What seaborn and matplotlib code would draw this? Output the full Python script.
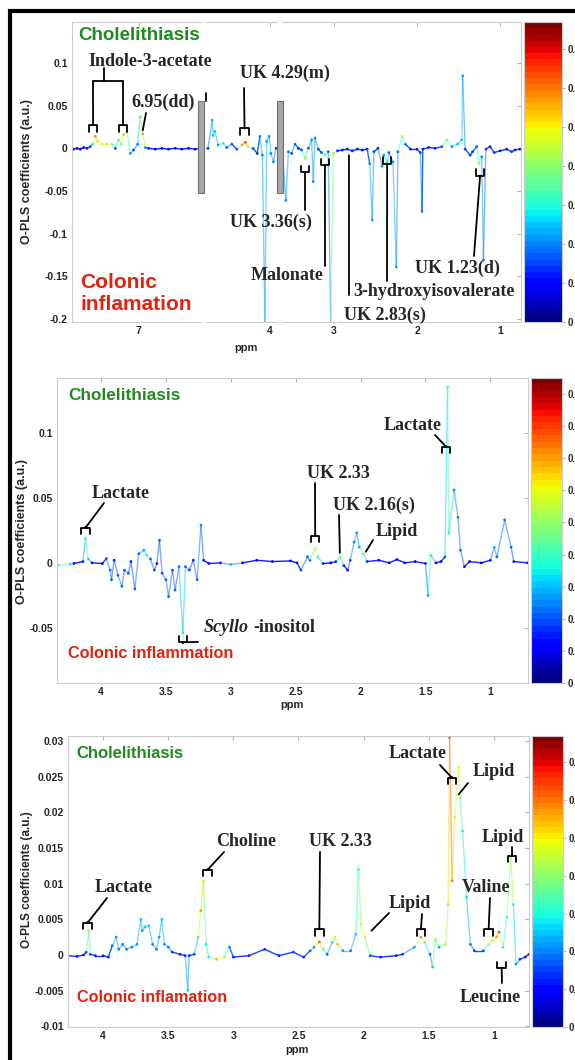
# O-PLS coefficient plots (three panels), jet colour-coded by correlation

import numpy as np
import matplotlib.pyplot as plt
import seaborn as sns
from matplotlib.collections import LineCollection
from matplotlib.colors import Normalize
from matplotlib.cm import ScalarMappable
from matplotlib.lines import Line2D
from matplotlib.patches import Rectangle
from matplotlib import transforms

W, H = 575, 1060

# ---- panel 1 data (broken ppm axis) ----
p1_ppm = [7.78, 7.74, 7.70, 7.66, 7.62, 7.58, 7.55, 7.52, 7.49, 7.44, 7.38, 7.32, 7.28, 7.24, 7.21,
          7.18, 7.14, 7.10, 7.06, 7.01, 6.98, 6.95, 6.92, 6.88, 6.80, 6.72, 6.64, 6.56, 6.48, 6.40,
          6.32, 6.26,
          4.73, 4.68, 4.67, 4.65, 4.61, 4.55, 4.51, 4.45, 4.39, 4.33, 4.29, 4.26, 4.20, 4.15, 4.12,
          4.09, 4.06, 4.04, 4.01, 3.99, 3.96, 3.93,
          3.62, 3.58, 3.55, 3.51, 3.47, 3.43, 3.39, 3.35, 3.31, 3.27, 3.25, 3.23, 3.19, 3.15, 3.11,
          3.07, 3.04, 3.01, 2.96, 2.90, 2.84, 2.78, 2.72, 2.66, 2.60, 2.57, 2.54, 2.52, 2.47, 2.42,
          2.40, 2.36, 2.34, 2.29, 2.25, 2.23, 2.18, 2.14, 2.08, 2.00, 1.96, 1.94, 1.93, 1.86, 1.78,
          1.70, 1.64, 1.58, 1.51, 1.46, 1.45, 1.42, 1.36, 1.33, 1.28, 1.25, 1.22, 1.20, 1.17, 1.12,
          1.07, 1.00, 0.92, 0.86, 0.82, 0.76]
p1_coef = [-0.001, 0.000, -0.001, 0.001, 0.000, 0.002, 0.005, 0.014, 0.008, 0.005, 0.005, 0.005, 0.000,
           0.010, 0.005, 0.016, 0.019, -0.006, -0.002, 0.005, 0.037, 0.017, 0.001, 0.000, -0.001, 0.000,
           -0.001, 0.000, -0.001, 0.000, -0.001, 0.000,
           0.000, 0.033, 0.015, 0.020, 0.004, 0.006, 0.001, 0.005, -0.001, 0.004, 0.007, 0.002, 0.000,
           -0.006, 0.014, -0.008, -0.205, 0.008, 0.014, -0.006, -0.016, 0.000,
           -0.008, -0.061, -0.004, -0.006, 0.005, 0.000, -0.002, -0.012, 0.000, 0.010, -0.039, 0.012,
           -0.001, -0.005, -0.008, -0.004, -0.205, -0.006, -0.003, -0.002, -0.001, -0.003, -0.001,
           -0.002, -0.001, -0.018, -0.084, -0.004, 0.000, -0.021, -0.008, -0.016, -0.005, -0.016,
           -0.139, -0.004, 0.014, 0.005, -0.001, -0.001, -0.005, -0.074, -0.001, 0.001, 0.000, 0.002,
           0.010, 0.002, 0.005, 0.010, 0.085, -0.001, -0.008, -0.004, 0.002, -0.018, -0.010, -0.131,
           -0.001, 0.002, -0.005, -0.003, -0.001, -0.004, -0.002, -0.001]
p1_corr = [0.12, 0.12, 0.10, 0.12, 0.12, 0.14, 0.30, 0.60, 0.50, 0.45, 0.45, 0.45, 0.12, 0.40, 0.35,
           0.55, 0.45, 0.22, 0.15, 0.20, 0.30, 0.60, 0.22, 0.12, 0.10, 0.12, 0.10, 0.12, 0.10, 0.12,
           0.10, 0.12,
           0.12, 0.25, 0.25, 0.25, 0.20, 0.35, 0.15, 0.20, 0.12, 0.55, 0.65, 0.50, 0.15, 0.12, 0.22,
           0.20, 0.24, 0.22, 0.22, 0.20, 0.22, 0.15,
           0.20, 0.22, 0.20, 0.15, 0.22, 0.12, 0.15, 0.45, 0.15, 0.22, 0.22, 0.22, 0.15, 0.15, 0.40,
           0.15, 0.24, 0.50, 0.12, 0.12, 0.12, 0.12, 0.12, 0.12, 0.12, 0.22, 0.24, 0.15, 0.12, 0.24,
           0.20, 0.35, 0.15, 0.22, 0.24, 0.15, 0.50, 0.20, 0.12, 0.12, 0.15, 0.22, 0.12, 0.12, 0.12,
           0.15, 0.45, 0.20, 0.25, 0.25, 0.24, 0.15, 0.15, 0.15, 0.15, 0.45, 0.20, 0.22, 0.15, 0.12,
           0.15, 0.12, 0.12, 0.15, 0.12, 0.12]
p1_segments = [(7.8, 6.25), (4.765, 3.918), (3.627, 0.747)]
p1_xticks = [[7], [4], [3, 2, 1]]

# ---- panel 2 data ----
p2_ppm = [4.33, 4.24, 4.21, 4.14, 4.12, 4.10, 4.07, 3.99, 3.96, 3.93, 3.92, 3.90, 3.87, 3.84, 3.82,
          3.79, 3.77, 3.74, 3.71, 3.67, 3.65, 3.62, 3.59, 3.57, 3.55, 3.53, 3.50, 3.48, 3.45, 3.43,
          3.40, 3.37, 3.35, 3.32, 3.29, 3.26, 3.23, 3.21, 3.17, 3.08, 3.00, 2.91, 2.80, 2.68, 2.54,
          2.49, 2.46, 2.41, 2.39, 2.35, 2.33, 2.29, 2.23, 2.19, 2.16, 2.13, 2.10, 2.08, 2.05, 2.03,
          2.01, 1.98, 1.95, 1.86, 1.78, 1.72, 1.66, 1.58, 1.50, 1.48, 1.46, 1.42, 1.38, 1.35, 1.33,
          1.32, 1.28, 1.25, 1.23, 1.20, 1.16, 1.07, 1.00, 0.97, 0.95, 0.89, 0.84, 0.82, 0.71]
p2_coef = [-0.002, -0.001, -0.0005, 0.001, 0.019, 0.003, 0.000, -0.0005, 0.0033, -0.0056, -0.013,
           0.002, -0.0095, -0.018, -0.0056, -0.008, 0.001, -0.020, 0.007, 0.0097, 0.006, 0.003,
           -0.0056, -0.0005, 0.0174, -0.008, -0.013, -0.026, -0.0056, -0.021, -0.003, -0.054, -0.003,
           -0.0056, 0.002, -0.013, 0.029, 0.002, -0.0005, 0.000, -0.0013, 0.000, 0.002, 0.001, 0.0015,
           0.000, -0.0056, 0.0046, 0.002, 0.011, 0.0046, -0.0005, 0.000, 0.001, 0.0046, -0.002,
           -0.0056, 0.002, 0.016, 0.023, 0.012, 0.007, 0.001, 0.002, 0.000, 0.0026, 0.000, 0.001,
           -0.0005, -0.025, 0.006, 0.000, 0.001, 0.0046, 0.135, 0.0226, 0.056, 0.035, 0.0097, -0.003,
           0.001, 0.000, 0.002, 0.012, 0.0046, 0.033, 0.012, 0.001, 0.000]
p2_corr = [0.45, 0.40, 0.12, 0.12, 0.40, 0.35, 0.12, 0.12, 0.20, 0.22, 0.22, 0.15, 0.22, 0.22, 0.20,
           0.22, 0.15, 0.22, 0.22, 0.28, 0.45, 0.20, 0.20, 0.15, 0.22, 0.20, 0.22, 0.22, 0.20, 0.22,
           0.20, 0.40, 0.20, 0.20, 0.15, 0.22, 0.26, 0.15, 0.12, 0.12, 0.35, 0.12, 0.15, 0.12, 0.15,
           0.12, 0.20, 0.22, 0.20, 0.60, 0.45, 0.15, 0.12, 0.15, 0.55, 0.15, 0.15, 0.20, 0.26, 0.26,
           0.26, 0.50, 0.15, 0.12, 0.12, 0.15, 0.12, 0.12, 0.12, 0.28, 0.45, 0.12, 0.12, 0.20, 0.45,
           0.40, 0.24, 0.24, 0.22, 0.15, 0.12, 0.12, 0.15, 0.30, 0.20, 0.24, 0.22, 0.15, 0.12]

# ---- panel 3 data ----
p3_ppm = [4.27, 4.20, 4.15, 4.13, 4.11, 4.10, 4.06, 4.00, 3.96, 3.93, 3.90, 3.88, 3.85, 3.82, 3.78,
          3.74, 3.71, 3.70, 3.68, 3.65, 3.62, 3.59, 3.57, 3.55, 3.53, 3.50, 3.47, 3.41, 3.37, 3.35,
          3.34, 3.30, 3.27, 3.25, 3.23, 3.21, 3.19, 3.13, 3.07, 3.03, 3.00, 2.88, 2.76, 2.65, 2.54,
          2.46, 2.41, 2.38, 2.34, 2.31, 2.28, 2.24, 2.22, 2.20, 2.16, 2.10, 2.06, 2.04, 2.02, 1.99,
          1.95, 1.87, 1.75, 1.70, 1.61, 1.56, 1.53, 1.49, 1.47, 1.45, 1.42, 1.37, 1.35, 1.34, 1.32,
          1.30, 1.27, 1.26, 1.24, 1.21, 1.18, 1.15, 1.08, 1.04, 1.01, 0.98, 0.96, 0.93, 0.90, 0.87,
          0.85, 0.83, 0.80, 0.76, 0.73]
p3_coef = [-0.0001, -0.0002, 0.0000, 0.0004, 0.0034, 0.0001, -0.0001, -0.0001, -0.0003, 0.0013,
           0.0025, 0.0008, 0.0015, 0.0008, 0.0011, 0.0015, 0.0050, 0.0034, 0.0039, 0.0041, 0.0015,
           0.0008, 0.0025, 0.0050, 0.0015, 0.0011, 0.0004, 0.0001, -0.0001, -0.0050, -0.0001, 0.0001,
           0.0025, 0.0062, 0.0104, 0.0015, -0.0003, -0.0006, -0.0003, 0.0011, -0.0003, -0.0001,
           0.0008, -0.0001, 0.0004, -0.0003, 0.0006, 0.0011, 0.0018, 0.0008, 0.0001, 0.0018, 0.0025,
           0.0015, 0.0006, 0.0006, 0.0029, 0.0120, 0.0043, 0.0025, -0.0001, -0.0003, -0.0001, 0.0001,
           0.0011, 0.0025, 0.0018, 0.0001, -0.0017, 0.0022, 0.0011, 0.0015, 0.0071, 0.0305, 0.0104,
           0.0193, 0.0263, 0.0221, 0.0174, 0.0081, 0.0015, 0.0006, 0.0006, 0.0015, 0.0020, 0.0025,
           0.0032, 0.0011, 0.0053, 0.0137, 0.0071, -0.0013, -0.0006, -0.0003, 0.0001]
p3_corr = [0.12, 0.12, 0.12, 0.15, 0.50, 0.15, 0.12, 0.12, 0.12, 0.20, 0.22, 0.20, 0.20, 0.20, 0.20,
           0.22, 0.26, 0.22, 0.26, 0.26, 0.20, 0.20, 0.22, 0.26, 0.22, 0.20, 0.15, 0.12, 0.12, 0.32,
           0.12, 0.15, 0.32, 0.60, 0.45, 0.28, 0.28, 0.55, 0.45, 0.22, 0.12, 0.12, 0.15, 0.12, 0.15,
           0.12, 0.20, 0.22, 0.65, 0.40, 0.15, 0.28, 0.45, 0.55, 0.20, 0.20, 0.26, 0.32, 0.45, 0.50,
           0.15, 0.12, 0.12, 0.15, 0.22, 0.60, 0.40, 0.15, 0.26, 0.45, 0.20, 0.45, 0.40, 0.65, 0.60,
           0.45, 0.50, 0.40, 0.28, 0.28, 0.20, 0.15, 0.15, 0.45, 0.45, 0.55, 0.65, 0.28, 0.32, 0.50,
           0.32, 0.22, 0.15, 0.12, 0.12]

cbar_max = [0.77, 0.95, 0.77]
green = '#1f8a1f'
red = '#e2220f'

sns.set_style('white')
plt.rcParams['font.family'] = ['Liberation Sans', 'DejaVu Sans']
plt.rcParams['font.weight'] = 'bold'
jet = plt.get_cmap('jet', 48)
serif = dict(family=['Liberation Serif', 'DejaVu Serif'], weight='bold', size=13)

fig = plt.figure(figsize=(W / 100, H / 100), dpi=100)


def box(x0, y0, x1, y1):
    return [x0 / W, 1 - y1 / H, (x1 - x0) / W, (y1 - y0) / H]


def spectrum(ax, ppm, coef, corr, vmax, lo=None, hi=None):
    ppm, coef, corr = np.asarray(ppm), np.asarray(coef), np.asarray(corr)
    if lo is not None:
        keep = (ppm >= lo) & (ppm <= hi)
        ppm, coef, corr = ppm[keep], coef[keep], corr[keep]
    pts = np.column_stack([ppm, coef])
    seg_corr = (corr[:-1] + corr[1:]) / 2
    colors = jet(Normalize(0, vmax)(seg_corr))
    # strong baseline stays solid, large excursions drawn faint
    colors[:, 3] = np.where(seg_corr < 0.17, 0.9, 0.5)
    lc = LineCollection(np.stack([pts[:-1], pts[1:]], axis=1), colors=colors, linewidths=1.0)
    ax.add_collection(lc)
    sns.scatterplot(x=ppm, y=coef, hue=corr, palette=jet, hue_norm=(0, vmax), s=4,
                    linewidth=0, legend=False, ax=ax)


def style(ax):
    for sp in ax.spines.values():
        sp.set_color('#cccccc')
        sp.set_linewidth(0.8)
    ax.tick_params(direction='in', length=3, width=0.8, color='#b5b5b5', labelsize=7.5,
                   top=True, right=True, pad=3)
    ax.set_xlabel('')
    ax.set_ylabel('')


def colorbar(pos, vmax):
    cax = fig.add_axes(box(*pos))
    cb = fig.colorbar(ScalarMappable(norm=Normalize(0, vmax), cmap=jet), cax=cax,
                      ticks=np.arange(0, vmax, 0.1))
    cb.outline.set_edgecolor('#cccccc')
    cax.tick_params(labelsize=7, length=2, color='#b5b5b5', pad=2)
    cax.yaxis.set_major_formatter('{x:.1g}')


def label(px, py, s, **kw):
    kw.setdefault('ha', 'center')
    fig.text(px / W, 1 - py / H, s, va='center', **kw)


def link(ax, x, y, px, py):
    ax.annotate('', xy=(x, y), xytext=(px, H - py), textcoords='figure pixels',
                annotation_clip=False,
                arrowprops=dict(arrowstyle='-', lw=1.3, color='k', shrinkA=0, shrinkB=0))


def cap(ax, x, y, up=False):
    ax.annotate('', xy=(x, y), xytext=(0, -1 if up else 1), textcoords='offset pixels',
                annotation_clip=False,
                arrowprops=dict(arrowstyle='-[,widthB=0.3,lengthB=0.45', lw=1.3, color='k',
                                shrinkA=0, shrinkB=0, mutation_scale=10))


def polyline(pts):
    xs = [p[0] / W for p in pts]
    ys = [1 - p[1] / H for p in pts]
    fig.add_artist(Line2D(xs, ys, color='k', lw=1.3, transform=fig.transFigure))


# ================= panel 1 =================
seg_px = [(72, 201), (205, 277), (282, 521)]
p1_axes = []
for i, ((hi, lo), (x0, x1)) in enumerate(zip(p1_segments, seg_px)):
    ax = fig.add_axes(box(x0, 22, x1, 322))
    spectrum(ax, p1_ppm, p1_coef, p1_corr, cbar_max[0], lo=lo - 0.01, hi=hi + 0.01)
    ax.set_xlim(hi, lo)
    ax.set_ylim(-0.2035, 0.148)
    style(ax)
    ax.set_xticks(p1_xticks[i])
    ax.set_xticklabels([f'{t:g}' for t in p1_xticks[i]])
    ax.set_yticks(np.arange(-0.2, 0.101, 0.05))
    if i == 0:
        ax.set_yticklabels(['-0.2', '-0.15', '-0.1', '-0.05', '0', '0.05', '0.1'])
        ax.spines['right'].set_visible(False)
        ax.tick_params(right=False)
    else:
        ax.set_yticklabels([])
        ax.spines['left'].set_visible(False)
        ax.tick_params(left=False)
        if i == 1:
            ax.spines['right'].set_visible(False)
            ax.tick_params(right=False)
    p1_axes.append(ax)
axA, axB, axC = p1_axes

# grey break bars
blend = transforms.blended_transform_factory(fig.transFigure, axA.transData)
for bx in (198, 277):
    fig.add_artist(Rectangle((bx / W, -0.052), 6 / W, 0.108, transform=blend,
                             facecolor='#a8a8a8', edgecolor='#6f6f6f', lw=0.8))
polyline([(206, 93), (206, 101)])

colorbar((524, 22, 562, 322), cbar_max[0])
label(27, 172, 'O-PLS coefficients (a.u.)', rotation=90, size=9)
label(246, 348, 'ppm', size=8)
label(78, 36, 'Cholelithiasis', ha='left', color=green, size=13.5)
label(80, 282, 'Colonic', ha='left', color=red, size=15)
label(80, 305, 'inflamation', ha='left', color=red, size=15)

label(150, 61, 'Indole-3-acetate', **serif)
polyline([(104, 68), (104, 81)])
polyline([(93, 81), (123, 81)])
for x, px in ((7.547, 93), (7.187, 123)):
    link(axA, x, 0.027, px, 81)
    cap(axA, x, 0.027)
label(163, 102, '6.95(dd)', **serif)
link(axA, 6.95, 0.021, 146, 113)
label(285, 73, 'UK 4.29(m)', **serif)
link(axB, 4.30, 0.0234, 244, 88)
cap(axB, 4.30, 0.0234)
label(271, 222, 'UK 3.36(s)', **serif)
link(axC, 3.35, -0.028, 305, 210)
cap(axC, 3.35, -0.028, up=True)
label(287, 276, 'Malonate', **serif)
link(axC, 3.11, -0.020, 325, 266)
cap(axC, 3.11, -0.020, up=True)
label(385, 315, 'UK 2.83(s)', **serif)
link(axC, 2.82, -0.008, 349, 295)
label(434, 292, '3-hydroxyisovalerate', **serif)
link(axC, 2.36, -0.018, 387, 281)
cap(axC, 2.36, -0.018, up=True)
label(457, 268, 'UK 1.23(d)', **serif)
link(axC, 1.24, -0.032, 474, 256)
cap(axC, 1.24, -0.032, up=True)

# ================= panel 2 =================
ax2 = fig.add_axes(box(57, 378, 528, 683))
spectrum(ax2, p2_ppm, p2_coef, p2_corr, cbar_max[1])
ax2.set_xlim(4.34, 0.71)
ax2.set_ylim(-0.0923, 0.142)
style(ax2)
ax2.set_xticks([4, 3.5, 3, 2.5, 2, 1.5, 1])
ax2.set_xticklabels(['4', '3.5', '3', '2.5', '2', '1.5', '1'])
ax2.set_yticks([-0.05, 0, 0.05, 0.1])
ax2.set_yticklabels(['-0.05', '0', '0.05', '0.1'])
colorbar((531, 378, 562, 683), cbar_max[1])
label(22, 532, 'O-PLS coefficients (a.u.)', rotation=90, size=9)
label(292, 705, 'ppm', size=8)
label(68, 395, 'Cholelithiasis', ha='left', color=green, size=12.3)
label(68, 653, 'Colonic inflammation', ha='left', color=red, size=11.7)

label(121, 493, 'Lactate', **serif)
link(ax2, 4.12, 0.027, 104, 503)
cap(ax2, 4.12, 0.027)
label(338, 473, 'UK 2.33', **serif)
link(ax2, 2.35, 0.021, 315, 483)
cap(ax2, 2.35, 0.021)
label(374, 505, 'UK 2.16(s)', **serif)
link(ax2, 2.16, 0.0077, 339, 515)
label(397, 531, 'Lipid', **serif)
link(ax2, 1.96, 0.0085, 373, 540)
label(413, 425, 'Lactate', **serif)
link(ax2, 1.34, 0.089, 435, 435)
cap(ax2, 1.34, 0.089)
cap(ax2, 3.37, -0.061, up=True)
link(ax2, 3.37, -0.061, 198, 642)
label(204, 628, 'Scyllo', ha='left', family=['Liberation Serif'], style='italic', size=13)
label(253, 628, '-inositol', ha='left', **serif)

# ================= panel 3 =================
ax3 = fig.add_axes(box(68, 736, 529, 1027))
spectrum(ax3, p3_ppm, p3_coef, p3_corr, cbar_max[2])
ax3.set_xlim(4.27, 0.73)
ax3.set_ylim(-0.0101, 0.0307)
style(ax3)
ax3.set_xticks([4, 3.5, 3, 2.5, 2, 1.5, 1])
ax3.set_xticklabels(['4', '3.5', '3', '2.5', '2', '1.5', '1'])
ax3.set_yticks(np.arange(-0.01, 0.0301, 0.005))
ax3.set_yticklabels(['-0.01', '-0.005', '0', '0.005', '0.01', '0.015', '0.02', '0.025', '0.03'])
colorbar((532, 736, 563, 1027), cbar_max[2])
label(27, 880, 'O-PLS coefficients (a.u.)', rotation=90, size=8.5)
label(297, 1050, 'ppm', size=8)
label(76, 753, 'Cholelithiasis', ha='left', color=green, size=12)
label(77, 998, 'Colonic inflamation', ha='left', color=red, size=11.6)

label(124, 887, 'Lactate', **serif)
link(ax3, 4.12, 0.0045, 107, 898)
cap(ax3, 4.12, 0.0045)
label(246, 842, 'Choline', **serif)
link(ax3, 3.20, 0.0119, 224, 852)
cap(ax3, 3.20, 0.0119)
label(340, 842, 'UK 2.33', **serif)
link(ax3, 2.34, 0.0036, 320, 852)
cap(ax3, 2.34, 0.0036)
label(410, 903, 'Lipid', **serif)
link(ax3, 1.94, 0.0034, 389, 913)
link(ax3, 1.56, 0.0036, 422, 914)
cap(ax3, 1.56, 0.0036)
label(418, 754, 'Lactate', **serif)
link(ax3, 1.32, 0.0248, 440, 765)
cap(ax3, 1.32, 0.0248)
label(494, 772, 'Lipid', **serif)
link(ax3, 1.27, 0.0225, 468, 783)
label(503, 837, 'Lipid', **serif)
link(ax3, 0.86, 0.0139, 512, 847)
cap(ax3, 0.86, 0.0139)
label(486, 887, 'Valine', **serif)
link(ax3, 1.04, 0.0036, 490, 898)
cap(ax3, 1.04, 0.0036)
label(490, 998, 'Leucine', **serif)
link(ax3, 0.94, -0.0018, 502, 983)
cap(ax3, 0.94, -0.0018, up=True)

# outer frame
fig.add_artist(Rectangle((10 / W, -0.1), 2, 1 - 11 / H + 0.1, transform=fig.transFigure,
                         fill=False, edgecolor='k', lw=3))

fig.savefig('out.png', dpi=100)
